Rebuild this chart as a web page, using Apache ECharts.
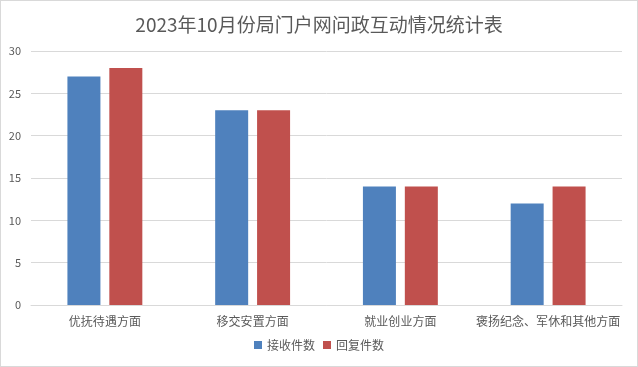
<!DOCTYPE html>
<html><head><meta charset="utf-8">
<script src="https://cdn.jsdelivr.net/npm/echarts@6/dist/echarts.min.js"></script>
<style>html,body{margin:0;padding:0;background:#fff}#c{width:636px;height:365px;border:1px solid #d9d9d9}</style>
</head><body><div id="c"></div>
<script>
const titleText = '2023年10月份局门户网问政互动情况统计表';
const categories = ['优抚待遇方面','移交安置方面','就业创业方面','褒扬纪念、军休和其他方面'];
const seriesNames = ['接收件数','回复件数'];
const received = [27, 23, 14, 12];
const replied = [28, 23, 14, 14];
const chart = echarts.init(document.getElementById('c'));
const font = '"Noto Sans CJK SC", "Noto Sans", sans-serif';
chart.setOption({
  animation: false,
  textStyle: {fontFamily: font},
  title: {text: titleText, left: 'center', top: 9, textStyle: {fontSize: 19, fontWeight: 'normal', color: '#595959', fontFamily: font}},
  legend: {data: seriesNames, bottom: 10, left: 'center', itemWidth: 8, itemHeight: 8, itemGap: 8, icon: 'rect',
    textStyle: {fontSize: 12, color: '#595959', fontFamily: font}},
  grid: {left: 30, right: 15, top: 50, bottom: 61, containLabel: false},
  xAxis: {type: 'category', data: categories,
    axisLine: {lineStyle: {color: '#d9d9d9'}}, axisTick: {show: false},
    axisLabel: {fontSize: 12, color: '#595959', margin: 10, interval: 0, fontFamily: font}},
  yAxis: {type: 'value', min: 0, max: 30, interval: 5,
    axisLine: {show: false}, axisTick: {show: false},
    splitLine: {lineStyle: {color: '#d9d9d9'}},
    axisLabel: {fontSize: 11, color: '#595959', margin: 10, fontFamily: font}},
  series: [
    {name: seriesNames[0], type: 'bar', data: received, barWidth: 33, barGap: '27%', itemStyle: {color: '#4F81BD'}},
    {name: seriesNames[1], type: 'bar', data: replied, barWidth: 33, barGap: '27%', itemStyle: {color: '#C0504D'}}
  ]
});
</script></body></html>
